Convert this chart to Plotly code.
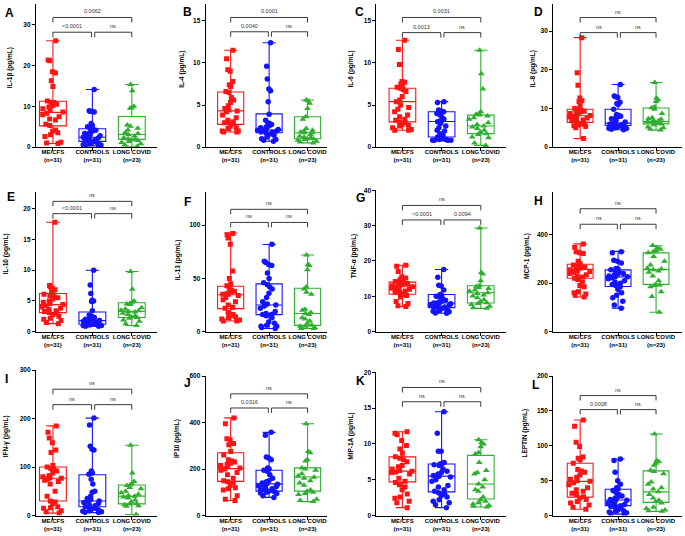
import plotly.graph_objects as go

W, H = 685, 536

# ---------------- data ----------------
groups = ["ME/CFS", "CONTROLS", "LONG COVID"]
group_n = [31, 31, 23]
group_colors = ["#ff1414", "#1414ff", "#2fae2f"]
group_symbols = ["square", "circle", "triangle-up"]
group_sizes = [5, 5.5, 6]

panel_letters = ["A", "B", "C", "D", "E", "F", "G", "H", "I", "J", "K", "L"]
panel_titles = ["IL-1β (pg/mL)", "IL-4 (pg/mL)", "IL-6 (pg/mL)", "IL-8 (pg/mL)",
                "IL-10 (pg/mL)", "IL-13 (pg/mL)", "TNF-α (pg/mL)", "MCP-1 (pg/mL)",
                "IFN-γ (pg/mL)", "IP10 (pg/mL)", "MIP-1A (pg/mL)", "LEPTIN (pg/mL)"]
y_max = [35, 17, 17, 37, 22.8, 131.5, 40, 578, 300, 600, 20, 200]
y_dtick = [10, 5, 5, 10, 5, 50, 10, 200, 100, 200, 5, 50]

# box stats per group: [min, q1, median, q3, max]
A_box = [[0.9, 5.2, 8.5, 11.2, 26.0], [0.3, 1.4, 2.4, 4.5, 14.1], [0.2, 1.9, 3.1, 7.5, 15.3]]
B_box = [[1.8, 2.7, 4.3, 6.55, 11.5], [0.7, 1.7, 2.0, 3.95, 12.4], [0.5, 1.0, 1.7, 3.6, 5.6]]
C_box = [[2.0, 3.0, 5.4, 7.0, 12.7], [0.8, 1.2, 3.05, 4.2, 5.4], [0.2, 1.6, 2.5, 3.8, 11.5]]
D_box = [[2.2, 6.4, 8.1, 9.8, 28.3], [4.5, 5.6, 6.2, 9.8, 16.2], [4.4, 6.0, 6.6, 10.1, 16.7]]
E_box = [[1.3, 3.1, 4.4, 6.2, 17.8], [0.9, 1.2, 1.8, 3.2, 10.0], [1.0, 2.3, 3.3, 4.7, 9.8]]
F_box = [[10, 21.6, 34.6, 42.6, 92.6], [3, 16, 25, 44.8, 81.8], [3, 5.9, 17, 40.7, 71.9]]
G_box = [[7.1, 10.6, 12.7, 14.0, 18.8], [5.2, 6.8, 8.1, 10.5, 17.6], [6.6, 8.1, 11.0, 13.0, 29.3]]
H_box = [[143, 220, 257, 278, 362], [97, 186, 226, 255, 331], [80, 195, 256, 325, 354]]
I_box = [[5, 30, 77, 100, 185], [6, 18, 30, 84, 201], [2, 24, 40, 63, 145]]
J_box = [[65, 147, 202, 270, 420], [78, 105, 136, 195, 358], [60, 105, 166, 205, 395]]
K_box = [[1.1, 4.7, 6.2, 8.2, 11.7], [1.1, 3.3, 5.5, 7.2, 14.5], [1.2, 2.3, 4.4, 8.4, 10.6]]
L_box = [[9, 26.4, 49, 75, 137], [2, 14.2, 22.2, 37.7, 81], [6, 18.9, 34, 64, 117]]

A_mecfs = [26.0, 21.3, 21.1, 18.4, 18.1, 16.2, 14.8, 11.3, 11.0, 10.9, 10.5, 10.2, 9.8, 9.4, 9.0, 8.6,
           8.3, 7.9, 7.4, 6.9, 6.6, 5.6, 5.3, 4.2, 3.9, 3.5, 3.0, 2.6, 1.2, 1.0, 0.9]
A_controls = [14.1, 8.9, 8.8, 8.7, 8.6, 5.8, 5.3, 5.0, 4.4, 4.3, 4.1, 3.9, 3.5, 3.3, 3.0, 2.8,
              2.6, 2.4, 2.2, 2.0, 1.8, 1.6, 1.5, 1.3, 1.1, 0.9, 0.8, 0.6, 0.5, 0.4, 0.3]
A_longcovid = [15.3, 13.8, 10.0, 9.6, 9.5, 5.4, 5.1, 4.6, 4.2, 3.6, 3.3, 3.0, 2.7, 2.3, 2.0, 1.9,
               1.8, 1.6, 1.4, 1.1, 0.8, 0.5, 0.2]

B_mecfs = [11.5, 10.5, 9.2, 9.0, 7.8, 7.4, 7.2, 6.6, 6.5, 5.9, 5.6, 5.3, 4.9, 4.6, 4.4, 4.3,
           4.2, 3.8, 3.5, 3.2, 3.0, 2.9, 2.9, 2.8, 2.5, 2.3, 2.2, 1.9, 1.9, 1.8, 1.8]
B_controls = [12.4, 9.6, 8.1, 6.9, 6.7, 5.4, 3.9, 3.2, 2.9, 2.8, 2.7, 2.5, 2.4, 2.3, 2.2, 2.1,
              2.0, 2.0, 1.9, 1.9, 1.8, 1.8, 1.7, 1.6, 1.5, 1.4, 1.2, 1.0, 0.9, 0.8, 0.7]
B_longcovid = [5.6, 5.5, 5.2, 4.6, 3.6, 3.3, 2.2, 2.0, 1.9, 1.8, 1.7, 1.7, 1.5, 1.3, 1.2, 1.1,
               1.0, 1.0, 0.9, 0.8, 0.7, 0.6, 0.5]

C_mecfs = [12.7, 11.6, 9.8, 7.8, 7.7, 7.5, 7.3, 7.1, 7.0, 6.8, 6.6, 6.0, 5.6, 5.4, 5.0, 4.7,
           4.5, 4.2, 3.8, 3.6, 3.3, 3.2, 3.0, 2.9, 2.7, 2.6, 2.5, 2.3, 2.1, 2.0, 2.0]
C_controls = [5.4, 5.3, 4.4, 4.3, 4.2, 4.2, 4.1, 4.0, 3.8, 3.5, 3.3, 3.1, 3.1, 3.0, 2.8, 2.5,
              2.3, 2.0, 1.9, 1.6, 1.4, 1.2, 1.1, 1.0, 1.0, 0.9, 0.9, 0.8, 0.8, 0.8, 0.8]
C_longcovid = [11.5, 8.7, 6.9, 4.2, 4.0, 3.9, 3.8, 3.7, 3.5, 3.3, 2.9, 2.7, 2.5, 2.4, 2.2, 2.0,
               1.8, 1.6, 1.5, 1.2, 1.1, 0.5, 0.2]

D_mecfs = [28.3, 19.2, 16.0, 12.7, 12.0, 11.8, 10.8, 10.0, 9.7, 9.5, 9.3, 9.0, 8.9, 8.7, 8.4, 8.2,
           8.0, 7.8, 7.5, 7.3, 7.0, 6.8, 6.5, 6.3, 6.1, 5.9, 5.7, 5.5, 5.3, 5.0, 2.2]
D_controls = [16.2, 13.2, 13.0, 12.8, 11.6, 11.3, 11.0, 9.8, 8.4, 8.2, 8.0, 7.9, 7.8, 7.3, 6.9, 6.5,
              6.2, 6.0, 5.9, 5.8, 5.7, 5.6, 5.5, 5.4, 5.3, 5.2, 5.0, 4.9, 4.8, 4.6, 4.5]
D_longcovid = [16.7, 12.7, 12.2, 11.8, 10.4, 10.2, 9.8, 8.7, 7.6, 7.3, 7.2, 7.0, 6.8, 6.6, 6.5, 6.3,
               6.1, 6.0, 5.8, 5.2, 5.0, 4.7, 4.4]

E_mecfs = [17.8, 7.5, 7.3, 7.0, 6.8, 6.6, 6.3, 6.1, 5.9, 5.7, 5.5, 5.3, 5.0, 4.8, 4.6, 4.4,
           4.2, 4.0, 3.8, 3.6, 3.4, 3.3, 3.1, 3.0, 2.8, 2.5, 2.2, 2.0, 1.8, 1.5, 1.3]
E_controls = [10.0, 7.6, 6.2, 5.1, 5.0, 4.9, 3.4, 2.7, 2.5, 2.4, 2.3, 2.1, 2.0, 2.0, 1.9, 1.8,
              1.8, 1.7, 1.6, 1.5, 1.4, 1.3, 1.3, 1.2, 1.2, 1.1, 1.1, 1.0, 1.0, 0.9, 0.9]
E_longcovid = [9.8, 6.9, 5.0, 4.8, 4.6, 4.5, 4.4, 3.9, 3.7, 3.5, 3.4, 3.3, 3.2, 3.0, 2.8, 2.6,
               2.4, 2.3, 2.2, 1.9, 1.7, 1.3, 1.0]

F_mecfs = [92, 91, 88, 82, 57, 50, 45, 43, 41, 39, 38, 37, 36, 35, 35, 34,
           32, 30, 28, 25, 23, 22, 18, 16, 15, 14, 13, 12, 11, 10, 10]
F_controls = [82, 66, 65, 63, 62, 55, 50, 46, 44, 42, 40, 36, 32, 28, 26, 25,
              24, 22, 19, 17, 16, 16, 15, 13, 9, 8, 6, 5, 5, 4, 3]
F_longcovid = [72, 63, 62, 58, 42, 40, 37, 35, 21, 20, 18, 17, 16, 13, 12, 10,
               8, 6, 5, 5, 4, 3, 3]

G_mecfs = [18.8, 18.5, 17.0, 15.5, 15.2, 14.8, 14.5, 14.2, 14.0, 13.8, 13.6, 13.4, 13.2, 13.0, 12.9, 12.7,
           12.5, 12.3, 12.0, 11.8, 11.5, 11.2, 11.0, 10.8, 10.5, 10.2, 9.8, 8.5, 8.0, 7.3, 7.1]
G_controls = [17.6, 15.4, 13.1, 12.9, 11.8, 10.5, 10.3, 10.0, 9.8, 9.4, 8.9, 8.6, 8.3, 8.1, 8.0, 7.9,
              7.8, 7.6, 7.4, 7.2, 7.0, 6.9, 6.8, 6.7, 6.5, 6.3, 6.0, 5.8, 5.6, 5.3, 5.2]
G_longcovid = [29.3, 16.7, 16.3, 14.4, 13.0, 12.8, 12.5, 12.2, 11.8, 11.4, 11.0, 10.8, 10.4, 10.1, 9.6, 9.0,
               8.5, 8.2, 8.0, 7.7, 7.2, 6.8, 6.6]

H_mecfs = [362, 348, 330, 325, 322, 290, 280, 275, 270, 268, 265, 262, 258, 255, 250, 248,
           245, 240, 235, 230, 225, 220, 215, 205, 190, 185, 165, 160, 155, 150, 143]
H_controls = [330, 325, 295, 290, 283, 260, 258, 255, 250, 245, 240, 238, 235, 230, 228, 226,
              222, 218, 210, 205, 200, 195, 190, 185, 175, 160, 150, 140, 125, 110, 97]
H_longcovid = [355, 345, 340, 335, 330, 325, 310, 290, 275, 262, 258, 255, 250, 245, 230, 210,
               195, 192, 190, 185, 165, 145, 80]

I_mecfs = [185, 172, 160, 150, 135, 130, 103, 100, 97, 95, 92, 88, 82, 80, 78, 77,
           76, 73, 70, 65, 50, 40, 30, 28, 25, 18, 16, 15, 10, 8, 5]
I_controls = [201, 187, 143, 137, 135, 92, 88, 85, 75, 65, 50, 48, 40, 35, 33, 30,
              29, 27, 25, 22, 20, 18, 17, 15, 14, 12, 10, 9, 8, 7, 6]
I_longcovid = [145, 88, 70, 66, 63, 62, 58, 55, 50, 47, 44, 41, 40, 38, 36, 32,
               28, 25, 24, 22, 20, 19, 2]

J_mecfs = [420, 395, 330, 325, 310, 305, 275, 260, 240, 235, 230, 225, 220, 215, 210, 205,
           200, 195, 185, 175, 160, 150, 145, 140, 130, 120, 115, 110, 85, 70, 65]
J_controls = [358, 345, 252, 248, 240, 205, 200, 195, 190, 175, 160, 150, 145, 140, 137, 135,
              132, 128, 125, 120, 115, 112, 110, 108, 105, 102, 100, 97, 95, 85, 78]
J_longcovid = [395, 275, 270, 240, 235, 205, 200, 195, 180, 170, 165, 160, 150, 140, 130, 110,
               105, 100, 95, 90, 70, 65, 60]

K_mecfs = [11.7, 11.5, 11.3, 10.5, 9.8, 9.3, 8.7, 8.2, 8.0, 7.8, 7.5, 7.0, 6.8, 6.5, 6.3, 6.2,
           6.1, 6.0, 5.8, 5.2, 4.8, 4.6, 4.3, 4.0, 3.6, 3.0, 2.6, 2.4, 2.0, 1.8, 1.1]
K_controls = [14.5, 11.5, 9.0, 9.0, 7.4, 7.2, 7.2, 7.1, 7.0, 6.5, 6.2, 6.0, 5.8, 5.6, 5.5, 5.4,
              5.0, 4.8, 4.2, 4.0, 3.6, 3.4, 3.2, 3.0, 2.8, 2.6, 2.2, 2.0, 1.8, 1.5, 1.1]
K_longcovid = [10.6, 10.2, 10.0, 9.6, 8.8, 8.6, 7.4, 6.3, 6.0, 5.8, 5.0, 4.4, 4.0, 3.6, 3.4, 2.6,
               2.2, 2.0, 1.8, 1.6, 1.4, 1.3, 1.2]

L_mecfs = [137, 128, 105, 99, 84, 82, 80, 75, 66, 64, 62, 58, 55, 52, 50, 49,
           47, 44, 40, 37, 35, 32, 30, 27, 25, 23, 20, 18, 15, 12, 9]
L_controls = [81, 79, 62, 50, 45, 40, 38, 36, 33, 30, 28, 27, 25, 23, 22, 22,
              20, 18, 16, 15, 14, 13, 12, 10, 8, 7, 6, 5, 4, 3, 2]
L_longcovid = [117, 79, 77, 75, 72, 65, 63, 60, 48, 45, 40, 38, 34, 30, 25, 22,
               20, 18, 12, 10, 8, 7, 6]

# significance labels: [ME/CFS vs LONG COVID, ME/CFS vs CONTROLS, CONTROLS vs LONG COVID]
sig_labels = [
    ["0.0062", "<0.0001", "ns"], ["0.0001", "0.0040", "ns"], ["0.0031", "0.0013", "ns"], ["ns", "ns", "ns"],
    ["ns", "<0.0001", "ns"], ["ns", "ns", "ns"], ["ns", "<0.0001", "0.0094"], ["ns", "ns", "ns"],
    ["ns", "ns", "ns"], ["ns", "0.0316", "ns"], ["ns", "ns", "ns"], ["ns", "0.0008", "ns"],
]
# bracket heights in data units: [upper bracket, lower brackets]
bracket_levels = [
    [31.7, 28.1], [15.4, 13.7], [15.4, 13.6], [33.5, 29.6],
    [21.2, 19.2], [114.8, 102.5], [35.7, 31.6], [507, 443],
    [260.7, 228.8], [523.5, 462.7], [17.9, 15.9], [172, 151.9],
]

panel_boxes = [A_box, B_box, C_box, D_box, E_box, F_box, G_box, H_box, I_box, J_box, K_box, L_box]
panel_points = [
    [A_mecfs, A_controls, A_longcovid], [B_mecfs, B_controls, B_longcovid],
    [C_mecfs, C_controls, C_longcovid], [D_mecfs, D_controls, D_longcovid],
    [E_mecfs, E_controls, E_longcovid], [F_mecfs, F_controls, F_longcovid],
    [G_mecfs, G_controls, G_longcovid], [H_mecfs, H_controls, H_longcovid],
    [I_mecfs, I_controls, I_longcovid], [J_mecfs, J_controls, J_longcovid],
    [K_mecfs, K_controls, K_longcovid], [L_mecfs, L_controls, L_longcovid],
]

# ---------------- layout geometry (pixels) ----------------
col_px = [(36, 157, 53, 39.5), (206, 327, 231, 38.5), (377, 507, 403, 39.25), (554, 683, 581, 38)]
panel_ypx = [(0, 145), (0, 145), (0, 145), (0, 145),
             (190, 332), (190, 332), (188.7, 332), (190, 332),
             (371, 518.3), (377, 518.3), (373.3, 518.3), (377, 518.3)]
title_px = [(10, 64), (182, 66), (352, 66), (534, 66),
            (5.5, 253), (178, 259), (354, 255), (527, 255),
            (6, 438), (178, 440), (352, 438), (526, 435)]
letter_px = [(9.5, 9), (188, 8), (360, 8), (539, 8),
             (11, 196), (188, 201), (361, 197), (539, 200),
             (7, 380), (188, 384), (361, 382), (536, 386)]

FONT = "Liberation Sans, Arial, sans-serif"
BOX_W = 0.68

fig = go.Figure()
layout = dict(width=W, height=H, margin=dict(l=0, r=0, t=0, b=0),
              paper_bgcolor="white", plot_bgcolor="white", showlegend=False,
              boxmode="overlay", font=dict(family=FONT, color="black"))
shapes, annotations = [], []

ticktext = [f"<b>{g}</b><br><b>(n={n})</b>" for g, n in zip(groups, group_n)]

for i in range(12):
    k = "" if i == 0 else str(i + 1)
    col = i % 4
    l, r, c0, sp = col_px[col]
    top, bot = panel_ypx[i]
    layout["xaxis" + k] = dict(
        domain=[l / W, r / W], range=[(l - c0) / sp, (r - c0) / sp], anchor="y" + k,
        type="category", categoryorder="array", categoryarray=groups,
        tickmode="array", tickvals=groups, ticktext=ticktext, tickangle=0,
        ticklabelstandoff=-4,
        showline=True, linecolor="black", linewidth=1.2, ticks="outside", ticklen=3,
        tickwidth=1, tickcolor="black", showgrid=False, zeroline=False,
        tickfont=dict(size=6, family=FONT, color="black"), fixedrange=True)
    layout["yaxis" + k] = dict(
        domain=[max(0, 1 - bot / H), min(1, 1 - top / H)], range=[0, y_max[i]], anchor="x" + k,
        tick0=0, dtick=y_dtick[i], showline=True, linecolor="black", linewidth=1.2,
        ticks="outside", ticklen=3, tickwidth=1, tickcolor="black", showgrid=False,
        zeroline=False, tickfont=dict(size=6.5, family=FONT, color="black", weight="bold"),
        fixedrange=True)

    for g in range(3):
        b = panel_boxes[i][g]
        fig.add_trace(go.Box(
            x=[groups[g]], lowerfence=[b[0]], q1=[b[1]], median=[b[2]], q3=[b[3]], upperfence=[b[4]],
            boxpoints=False, fillcolor="rgba(255,255,255,0)",
            line=dict(color=group_colors[g], width=1.1), width=BOX_W, whiskerwidth=0.5,
            xaxis="x" + k, yaxis="y" + k, hoverinfo="skip"))
        vals = panel_points[i][g]
        fig.add_trace(go.Box(
            x=[groups[g]] * len(vals), y=vals, boxpoints="all", jitter=0.9, pointpos=0,
            fillcolor="rgba(0,0,0,0)", line=dict(color="rgba(0,0,0,0)", width=0),
            width=BOX_W, marker=dict(symbol=group_symbols[g], size=group_sizes[g],
                                      color=group_colors[g], line=dict(width=0)),
            xaxis="x" + k, yaxis="y" + k, hoverinfo="skip"))

    # significance brackets
    hi, lo = bracket_levels[i]
    drop = 0.035 * y_max[i]
    spans = [(0, 2, hi), (0, 0.98, lo), (1.06, 2, lo)]
    for (x0, x1, yb), lab in zip(spans, sig_labels[i]):
        for (xa, ya, xb, yb2) in [(x0, yb - drop, x0, yb), (x0, yb, x1, yb), (x1, yb, x1, yb - drop)]:
            shapes.append(dict(type="line", xref="x" + k, yref="y" + k, x0=xa, y0=ya, x1=xb, y1=yb2,
                               line=dict(color="#3a3a3a", width=1)))
        annotations.append(dict(x=(x0 + x1) / 2, y=yb, xref="x" + k, yref="y" + k, text=lab,
                                showarrow=False, yanchor="bottom", yshift=1,
                                font=dict(size=5.5, family=FONT, color="#333333")))

    tx, ty = title_px[i]
    annotations.append(dict(x=tx / W, y=1 - ty / H, xref="paper", yref="paper",
                            text=f"<b>{panel_titles[i]}</b>", textangle=-90, showarrow=False,
                            xanchor="center", yanchor="middle",
                            font=dict(size=6.5, family=FONT, color="black")))
    lx, ly = letter_px[i]
    annotations.append(dict(x=lx / W, y=1 - ly / H, xref="paper", yref="paper",
                            text=f"<b>{panel_letters[i]}</b>", showarrow=False,
                            xanchor="center", yanchor="middle",
                            font=dict(size=12, family=FONT, color="black")))

layout["shapes"] = shapes
layout["annotations"] = annotations
fig.update_layout(**layout)
fig.write_html("out.html", config={"displayModeBar": False},
               post_script="document.body.style.margin='0';document.body.style.overflow='hidden';")
